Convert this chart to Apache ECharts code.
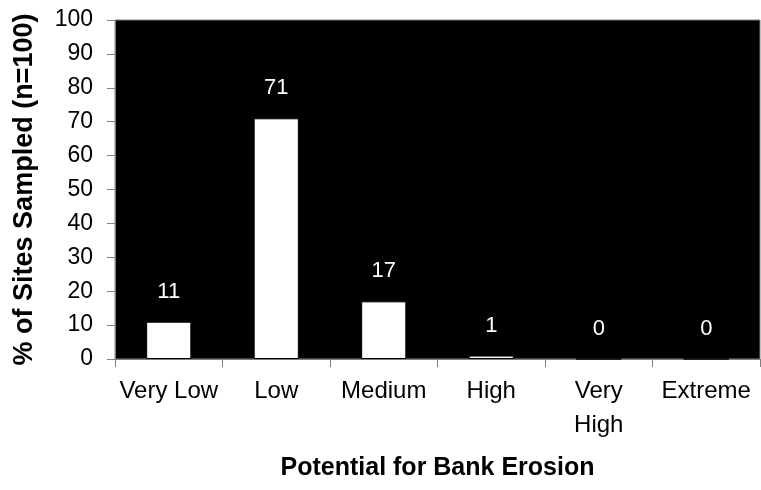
<!DOCTYPE html>
<html>
<head>
<meta charset="utf-8">
<script src="https://cdn.jsdelivr.net/npm/echarts@6/dist/echarts.min.js"></script>
<style>
  html, body { margin: 0; padding: 0; background: #fff; }
  #chart { width: 761px; height: 490px; }
</style>
</head>
<body>
<div id="chart"></div>
<script>
// Share of sampled sites by bank-erosion potential class
const categories = ['Very Low', 'Low', 'Medium', 'High', 'Very\nHigh', 'Extreme'];
const percentSites = [11, 71, 17, 1, 0, 0];
const yTicks = { min: 0, max: 100, step: 10 };

const FONT = "'Liberation Sans', Arial, sans-serif";
const AXIS_GRAY = '#808080';

const chart = echarts.init(document.getElementById('chart'), null, { renderer: 'canvas' });

chart.setOption({
  animation: false,
  backgroundColor: '#ffffff',
  textStyle: { fontFamily: FONT },
  grid: {
    left: 115, right: 1, top: 20, bottom: 131,
    show: true,
    backgroundColor: '#000000',
    borderColor: AXIS_GRAY,
    borderWidth: 1
  },
  xAxis: {
    type: 'category',
    data: categories,
    name: 'Potential for Bank Erosion',
    nameLocation: 'middle',
    nameGap: 97,
    nameTextStyle: { fontFamily: FONT, fontSize: 25, fontWeight: 'bold', color: '#000' },
    axisLine: { show: true, lineStyle: { color: AXIS_GRAY, width: 1 } },
    axisTick: { show: true, length: 8, alignWithLabel: false, lineStyle: { color: AXIS_GRAY } },
    axisLabel: {
      interval: 0, margin: 15, color: '#000',
      fontFamily: FONT, fontSize: 24, lineHeight: 34
    },
    splitLine: { show: false }
  },
  yAxis: {
    type: 'value',
    min: yTicks.min, max: yTicks.max, interval: yTicks.step,
    name: '% of Sites Sampled (n=100)',
    nameLocation: 'middle',
    nameRotate: 90,
    nameGap: 77,
    nameTextStyle: { fontFamily: FONT, fontSize: 27, fontWeight: 'bold', color: '#000' },
    axisLine: { show: true, lineStyle: { color: AXIS_GRAY, width: 1 } },
    axisTick: { show: true, length: 8, lineStyle: { color: AXIS_GRAY } },
    axisLabel: { margin: 22, color: '#000', fontFamily: FONT, fontSize: 23 },
    splitLine: { show: false }
  },
  series: [{
    type: 'bar',
    data: percentSites,
    barWidth: '42%',
    itemStyle: { color: '#ffffff', borderColor: '#000000', borderWidth: 1 },
    label: {
      show: true, position: 'top', distance: 19,
      color: '#ffffff', fontFamily: FONT, fontSize: 22
    }
  }]
});
</script>
</body>
</html>
